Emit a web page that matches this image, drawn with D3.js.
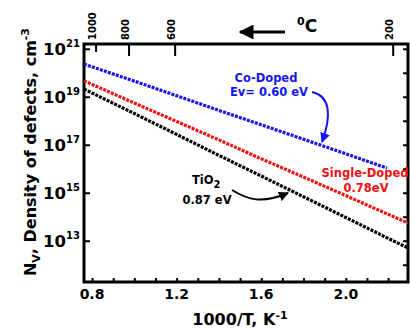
<!DOCTYPE html>
<html>
<head>
<meta charset="utf-8">
<script src="https://cdn.jsdelivr.net/npm/d3@7"></script>
<style>
  body { margin: 0; background: #fff; }
  svg { display: block; font-family: "DejaVu Sans", Arial, sans-serif; font-weight: bold; }
</style>
</head>
<body>
<svg id="chart" width="410" height="329"></svg>
<script>
// series (x = 1000/T in K^-1, y = defects per cm^3)
var coX = [0.762, 1.0, 1.2, 1.4, 1.6, 1.8, 2.0, 2.195];
var coDoped = [2.3e20, 4.5e19, 1.1e19, 2.7e18, 6.8e17, 1.7e17, 4.2e16, 1.07e16];
var singleX = [0.762, 1.0, 1.2, 1.4, 1.6, 1.8, 2.0, 2.2, 2.294];
var singleDoped = [4.6e19, 5.5e18, 9.3e17, 1.6e17, 2.6e16, 4.5e15, 7.6e14, 1.26e14, 5.5e13];
var tioX = [0.762, 1.0, 1.2, 1.4, 1.6, 1.8, 2.0, 2.2, 2.294];
var tio2 = [2.1e19, 2.0e18, 2.7e17, 3.6e16, 5.0e15, 6.8e14, 9.3e13, 1.26e13, 5.0e12];

var xTicks = [0.8, 1.2, 1.6, 2.0];
var yTickExp = [13, 15, 17, 19, 21];
// top axis: degrees C and where they sit on the 1000/T axis
var celsiusLabels = ["1000", "800", "600", "200"];
var celsiusPos = [0.819, 0.975, 1.193, 2.224];

function drawChart() {
    var svg = d3.select("#chart");
    var pLeft = 84, pRight = 408, pTop = 44, pBottom = 282;

    var x = d3.scaleLinear().domain([0.762, 2.294]).range([pLeft, pRight]);
    var y = d3.scaleLog().domain([Math.pow(10, 11.28), Math.pow(10, 21.2)]).range([pBottom, pTop]);

    var defs = svg.append("defs");
    defs.append("clipPath").attr("id", "plotClip")
        .append("rect").attr("x", pLeft).attr("y", pTop).attr("width", pRight - pLeft).attr("height", pBottom - pTop);

    // bottom axis, small inward ticks every 0.1
    var bottomAxis = d3.axisBottom(x).tickValues(d3.range(0.8, 2.29, 0.1)).tickSize(-4).tickFormat("");
    svg.append("g").attr("transform", "translate(0," + pBottom + ")").call(bottomAxis)
        .call(function (g) { g.select(".domain").remove(); g.selectAll("line").attr("stroke-width", 2); });

    svg.append("g").selectAll("text").data(xTicks).join("text")
        .attr("x", function (d) { return x(d); })
        .attr("y", 299)
        .attr("text-anchor", "middle")
        .attr("font-size", 14)
        .text(function (d) { return d.toFixed(1); });

    // left axis ticks (labelled decades)
    var leftAxis = d3.axisLeft(y).tickValues(yTickExp.map(function (e) { return Math.pow(10, e); }))
        .tickSize(-6).tickFormat("");
    svg.append("g").attr("transform", "translate(" + pLeft + ",0)").call(leftAxis)
        .call(function (g) { g.select(".domain").remove(); g.selectAll("line").attr("stroke-width", 2); });

    var yLab = svg.append("g").selectAll("text").data(yTickExp).join("text")
        .attr("x", 80)
        .attr("y", function (d) { return y(Math.pow(10, d)) + 6; })
        .attr("text-anchor", "end")
        .attr("font-size", 16.5);
    yLab.append("tspan").text("10");
    yLab.append("tspan").attr("dy", -8).attr("font-size", 10).text(function (d) { return d; });

    // right axis, every decade
    var rightAxis = d3.axisRight(y).tickValues(d3.range(12, 22).map(function (e) { return Math.pow(10, e); }))
        .tickSize(-5).tickFormat("");
    svg.append("g").attr("transform", "translate(" + pRight + ",0)").call(rightAxis)
        .call(function (g) { g.select(".domain").remove(); g.selectAll("line").attr("stroke-width", 2); });

    // top axis in degrees C
    svg.append("g").selectAll("line").data(celsiusPos).join("line")
        .attr("x1", function (d) { return x(d); }).attr("x2", function (d) { return x(d); })
        .attr("y1", pTop).attr("y2", function (d, i) { return i === 0 ? pTop + 8 : pTop + 12; })
        .attr("stroke", "#000").attr("stroke-width", 2);
    svg.append("g").selectAll("text").data(celsiusLabels).join("text")
        .attr("transform", function (d, i) { return "translate(" + (x(celsiusPos[i]) - 0.5) + ",40) rotate(-90)"; })
        .attr("font-size", 10)
        .text(function (d) { return d; });

    // frame
    svg.append("rect").attr("x", pLeft).attr("y", pTop).attr("width", pRight - pLeft).attr("height", pBottom - pTop)
        .attr("fill", "none").attr("stroke", "#000").attr("stroke-width", 3);

    // series
    var line = d3.line().x(function (d) { return x(d[0]); }).y(function (d) { return y(d[1]); });
    var series = [
        { xs: coX, ys: coDoped, color: "#1414f0" },
        { xs: singleX, ys: singleDoped, color: "#f01010" },
        { xs: tioX, ys: tio2, color: "#000" }
    ];
    svg.append("g").attr("clip-path", "url(#plotClip)").selectAll("path").data(series).join("path")
        .attr("d", function (s) { return line(d3.zip(s.xs, s.ys)); })
        .attr("fill", "none")
        .attr("stroke", function (s) { return s.color; })
        .attr("stroke-width", 3.2)
        .attr("stroke-dasharray", "3,1.2");

    // arrow heads
    [["arrowBlue", "#1414f0"], ["arrowBlack", "#000"]].forEach(function (a) {
        defs.append("marker").attr("id", a[0]).attr("viewBox", "0 0 10 10")
            .attr("refX", 9).attr("refY", 5).attr("markerWidth", 5).attr("markerHeight", 5)
            .attr("orient", "auto").attr("markerUnits", "strokeWidth")
            .append("path").attr("d", "M0,0 L10,5 L0,10 Z").attr("fill", a[1]);
    });

    // annotations
    var note = svg.append("g").attr("font-size", 11.5);
    note.append("text").attr("x", 266).attr("y", 82).attr("text-anchor", "middle").attr("fill", "#1414f0").text("Co-Doped");
    note.append("text").attr("x", 269).attr("y", 96).attr("text-anchor", "middle").attr("fill", "#1414f0").text("Ev= 0.60 eV");
    note.append("path").attr("d", "M312,92 C330,96 332,115 322,142")
        .attr("fill", "none").attr("stroke", "#1414f0").attr("stroke-width", 2).attr("marker-end", "url(#arrowBlue)");

    note.append("text").attr("x", 365).attr("y", 177).attr("text-anchor", "middle").attr("fill", "#f01010").text("Single-Doped");
    note.append("text").attr("x", 366).attr("y", 192).attr("text-anchor", "middle").attr("fill", "#f01010").text("0.78eV");

    var tioText = note.append("text").attr("x", 192).attr("y", 184).attr("fill", "#000");
    tioText.append("tspan").text("TiO");
    tioText.append("tspan").attr("dy", 4).attr("font-size", 10).text("2");
    note.append("text").attr("x", 207).attr("y", 204).attr("text-anchor", "middle").text("0.87 eV");
    note.append("path").attr("d", "M232,190 C248,200 262,204 288,193")
        .attr("fill", "none").attr("stroke", "#000").attr("stroke-width", 2).attr("marker-end", "url(#arrowBlack)");

    // 0C with left arrow at the top
    svg.append("line").attr("x1", 285).attr("x2", 240).attr("y1", 32).attr("y2", 32)
        .attr("stroke", "#000").attr("stroke-width", 3).attr("marker-end", "url(#arrowBlack)");
    var cLab = svg.append("text").attr("x", 297).attr("y", 32).attr("font-size", 17);
    cLab.append("tspan").attr("dy", -7).attr("font-size", 11).text("0");
    cLab.append("tspan").attr("dy", 7).text("C");

    // axis titles
    var xt = svg.append("text").attr("x", 240).attr("y", 325).attr("text-anchor", "middle").attr("font-size", 16);
    xt.append("tspan").text("1000/T, K");
    xt.append("tspan").attr("dy", -6).attr("font-size", 11).text("-1");

    var yt = svg.append("text").attr("transform", "translate(36,152) rotate(-90)").attr("text-anchor", "middle").attr("font-size", 16);
    yt.append("tspan").text("N");
    yt.append("tspan").attr("dy", 4).attr("font-size", 11).text("V");
    yt.append("tspan").attr("dy", -4).text(", Density of defects, cm");
    yt.append("tspan").attr("dy", -7).attr("font-size", 11).text("-3");
}

drawChart();
</script>
</body>
</html>
